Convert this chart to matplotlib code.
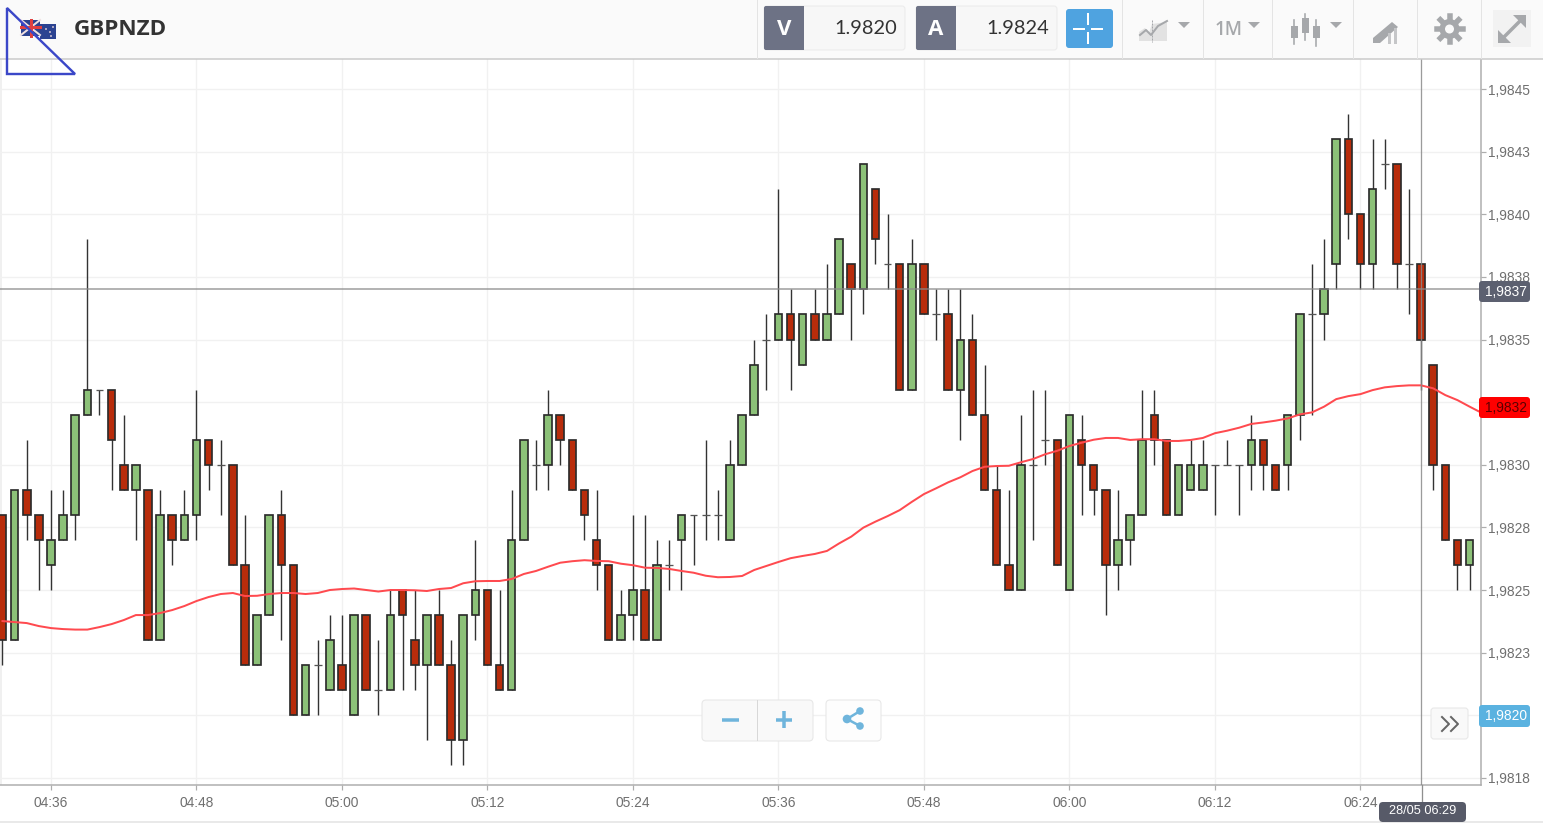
import matplotlib
matplotlib.use("Agg")
import matplotlib.pyplot as plt
from matplotlib.patches import Rectangle, FancyBboxPatch, Polygon, Circle
from matplotlib.lines import Line2D
import numpy as np

BASE = 1.98
PIP = 0.0001
# one candle per minute from 04:32, in pips above 1.9800
opens = [28,23,29,28,26,27,28,32,33,33,30,29,29,23,28,27,28,31,30,30,26,22,24,28,26,20,22,21,
         22,20,24,21,21,25,23,22,24,22,19,24,25,22,21,27,30,30,32,31,29,27,26,23,24,25,23,26,27,28,
         28,28,27,30,32,35,35,36,34,36,35,36,38,37,41,38,38,33,38,36,36,33,35,32,29,26,25,30,31,31,
         25,31,30,29,26,27,28,32,31,28,29,29,30,30,30,30,31,30,30,32,36,36,38,43,40,38,42,42,38,38,34,30,27,26]
highs = [28,29,31,28,29,29,32,39,33,33,32,30,29,29,28,29,33,31,31,30,28,24,28,29,26,22,23,24,
         24,24,24,23,25,25,25,24,25,23,24,27,25,25,29,31,31,33,32,31,29,29,26,25,28,28,27,27,28,28,
         31,29,31,32,35,36,41,37,36,37,38,39,38,42,41,40,38,39,38,37,37,37,36,34,30,29,32,33,33,31,
         32,32,30,29,29,28,33,33,31,30,31,31,30,31,30,32,31,30,32,36,38,39,43,44,40,43,43,42,41,38,34,30,27,27]
lows = [22,23,27,25,25,27,27,32,32,29,29,27,23,23,26,27,27,29,28,26,22,22,24,23,20,20,20,21,
        21,20,21,20,21,21,21,19,22,18,18,23,22,21,21,27,29,29,30,29,27,25,23,23,23,23,23,25,25,26,
        27,27,27,30,32,33,35,33,34,35,35,36,35,36,38,37,33,33,36,35,33,31,32,29,26,25,25,27,30,26,
        25,28,28,24,25,26,28,30,28,28,29,29,28,30,28,29,29,29,29,31,32,35,37,39,37,37,41,37,36,33,29,27,25,25]
closes = [23,29,28,27,27,28,32,33,33,31,29,30,23,28,27,28,31,30,30,26,22,24,28,26,20,22,22,23,
          21,24,21,21,24,24,22,24,22,19,24,25,22,21,27,31,30,32,31,29,28,26,23,24,25,23,26,26,28,28,
          28,28,30,32,34,35,36,35,36,35,36,39,37,42,39,38,33,38,36,36,33,35,32,29,26,25,30,30,31,26,
          32,30,29,26,27,28,31,31,28,30,30,30,30,30,30,31,30,29,32,36,36,37,43,40,38,41,42,38,38,35,30,27,26,27]
# moving average, pips above 1.9800
ma = [23.76,23.72,23.68,23.56,23.48,23.44,23.42,23.42,23.52,23.64,23.80,24.00,24.00,24.08,24.20,24.36,24.56,24.72,
      24.84,24.88,24.76,24.77,24.84,24.88,24.88,24.84,24.88,25.00,25.04,25.06,25.00,24.94,25.00,25.00,24.99,24.96,
      25.04,25.08,25.27,25.35,25.36,25.36,25.44,25.64,25.76,25.93,26.09,26.15,26.19,26.16,26.15,26.05,25.99,25.89,
      25.88,25.84,25.76,25.69,25.57,25.51,25.52,25.56,25.80,25.96,26.12,26.27,26.36,26.44,26.56,26.86,27.13,27.49,
      27.73,27.95,28.19,28.52,28.83,29.06,29.30,29.50,29.75,29.92,29.95,29.96,30.10,30.23,30.42,30.56,30.75,30.88,
      31.00,31.07,31.07,30.99,31.02,31.02,30.95,30.95,30.99,31.07,31.26,31.36,31.48,31.63,31.69,31.76,31.85,32.01,
      32.09,32.32,32.62,32.74,32.82,32.98,33.09,33.14,33.17,33.17,33.05,32.78,32.58,32.32,32.07]
y_tick_pips = [17.5,20,22.5,25,27.5,30,32.5,35,37.5,40,42.5,45]
y_tick_labels = ["1,9818","1,9820","1,9823","1,9825","1,9828","1,9830","1,9833","1,9835","1,9838","1,9840","1,9843","1,9845"]
x_tick_minutes = [4,16,28,40,52,64,76,88,100,112]
x_tick_labels = ["04:36","04:48","05:00","05:12","05:24","05:36","05:48","06:00","06:12","06:24"]
cross_price = 37.0
cross_minute = 117

to_price = lambda p: BASE + np.asarray(p, dtype=float) * PIP
o, h, l, c = map(to_price, (opens, highs, lows, closes))
t = np.arange(len(o))

W, H = 1543, 823
AXIS_FONT = "Liberation Sans"
fig = plt.figure(figsize=(W/100, H/100), dpi=100, facecolor="white")
ax = fig.add_axes([0, (H-785)/H, 1481/W, (785-59)/H])
ax.set_xlim(-0.206, 121.94)
ax.set_ylim(*to_price([17.216, 46.198]))

px = 0.72
ax.set_axisbelow(True)
ax.grid(True, color="#f1f1f1", lw=1.3*px)
ax.axvspan(-0.206, -0.04, color="#f0f0f0", lw=0, zorder=0)
for s in ("left", "top"):
    ax.spines[s].set_visible(False)
for s in ("right", "bottom"):
    ax.spines[s].set_color("#adadad"); ax.spines[s].set_linewidth(1.5*px)
ax.yaxis.tick_right()
ax.set_yticks(to_price(y_tick_pips)); ax.set_yticklabels(y_tick_labels, family=AXIS_FONT, fontsize=9.9, color="#6f6f6f")
ax.set_xticks(x_tick_minutes); ax.set_xticklabels(x_tick_labels, family=AXIS_FONT, fontsize=9.9, color="#6f6f6f")
ax.tick_params(axis="both", length=3.6, width=1.2*px, color="#adadad", pad=1.4)
ax.tick_params(axis="x", pad=4.4)

GREEN, RED, EDGE = "#8cc178", "#b82c0b", "#2b2b2b"
ax.vlines(t, l, h, color="#333333", lw=1.4*px, zorder=2)
body = c != o
up = c > o
ax.bar(t[body & up], (c-o)[body & up], bottom=o[body & up], width=0.62, color=GREEN, edgecolor=EDGE, lw=1.7*px, zorder=3)
ax.bar(t[body & ~up], (o-c)[body & ~up], bottom=c[body & ~up], width=0.62, color=RED, edgecolor=EDGE, lw=1.7*px, zorder=3)
ax.hlines(o[~body], t[~body]-0.32, t[~body]+0.32, color="#555555", lw=1.3*px, zorder=3)
ax.plot(np.arange(len(ma)), to_price(ma), color="#ff4a4f", lw=2*px, zorder=4, solid_joinstyle="round")
ax.axhline(to_price(cross_price), color="#8a8a8a", lw=1.5*px, alpha=0.85, zorder=5)
ax.axvline(cross_minute, color="#8a8a8a", lw=1.3*px, alpha=0.85, zorder=5)

# page chrome in pixel coordinates
ov = fig.add_axes([0, 0, 1, 1], zorder=10)
ov.set_xlim(0, W); ov.set_ylim(H, 0); ov.axis("off"); ov.patch.set_alpha(0)

def rect(x0, y0, x1, y1, fc, ec="none", lw=0, z=1):
    ov.add_patch(Rectangle((x0, y0), x1-x0, y1-y0, fc=fc, ec=ec, lw=lw, zorder=z))
def rbox(x0, y0, x1, y1, fc, ec="none", r=3, lw=0.8, z=1):
    ov.add_patch(FancyBboxPatch((x0+r, y0+r), x1-x0-2*r, y1-y0-2*r, boxstyle=f"round,pad={r},rounding_size={r}",
                                fc=fc, ec=ec, lw=lw, zorder=z, mutation_aspect=1))
def line(xs, ys, col, lw=1.0, z=3, **k):
    ov.add_line(Line2D(xs, ys, color=col, lw=lw*px, zorder=z, **k))
def txt(x, y, s, col, size, fam=AXIS_FONT, w="normal", ha="center", z=4):
    ov.text(x, y, s, color=col, fontsize=size, family=fam, weight=w, ha=ha, va="center", zorder=z)

rect(0, 0, W, 58.5, "#fafafa")
line([0, W], [58.5, 58.5], "#c9c9c9", 1.5)
line([0, W], [822, 822], "#e2e2e2", 1.5, z=0.6)
for xs in (757, 1122, 1203, 1272, 1353, 1417, 1481):
    line([xs, xs], [0, 58], "#e4e4e4", 1)

# flag
rect(21, 20, 40, 36, "#2c4391", z=2)
line([21, 40], [20, 35], "#f0e0e0", 2)
line([21, 40], [35, 20], "#f0e0e0", 2)
line([31, 31], [20, 36], "#e04040", 3)
line([21, 40], [27, 27], "#e04040", 3)
rect(40, 24, 56, 39, "#2c4391", z=2)
for sx, sy in ((46, 29), (50, 32), (53, 27), (51, 36)):
    ov.add_patch(Circle((sx, sy), 0.9, fc="#f2dede", zorder=3))
txt(73.5, 29.5, "GBPNZD", "#333333", 16.2, fam="Open Sans", w="bold", ha="left")
ov.add_patch(Polygon([(7, 8), (7, 74), (75, 74)], closed=True, fill=False, ec="#3b47c8", lw=2.4*px, zorder=6, joinstyle="miter"))

# bid / ask
for x0, x1, x2, lab, val in ((764, 804, 905, "V", "1.9820"), (916, 956, 1057, "A", "1.9824")):
    rbox(x0, 6, x2, 50, "#f7f7f7", ec="#ececec", r=3)
    rbox(x0, 6, x1, 50, "#6d7285", r=2, z=2)
    rect(x1-5, 6, x1, 50, "#6d7285", z=2)
    txt((x0+x1)/2, 29.5, lab, "white", 16, fam="Open Sans", w="bold")
    txt(x2-8, 28.5, val, "#333333", 14.4, fam="Lato", ha="right")
rbox(1066, 9, 1113, 48, "#4fa3e0", r=3)
for xs, ys in (([1088, 1088], [14, 24]), ([1088, 1088], [33, 43]), ([1074, 1084], [28.5, 28.5]), ([1092, 1102], [28.5, 28.5])):
    line(xs, ys, "white", 2)

ICON = "#a6a8ab"
ov.add_patch(Polygon([(1139, 41), (1139, 32), (1145, 28), (1149, 33), (1152, 24), (1167, 22), (1167, 41)], fc="#e2e2e2", ec="none", zorder=2))
line([1140, 1146, 1151, 1158, 1167], [35, 30, 35, 26, 21], ICON, 2)
line([1152, 1152], [20, 42], ICON, 1, ls=(0, (2, 1)))
def caret(x, y=22):
    ov.add_patch(Polygon([(x-6, y), (x+6, y), (x, y+6)], fc=ICON, ec="none", zorder=3))
caret(1184); caret(1254); caret(1336)
txt(1229, 29.5, "1M", ICON, 13.5, fam="Open Sans", w="semibold")
for cx, y0, y1, b0, b1 in ((1294, 20, 44, 26, 38), (1305, 14, 40, 18, 33), (1316, 20, 46, 26, 38)):
    line([cx, cx], [y0, y1], ICON, 1.6)
    rect(cx-3.5, b0, cx+3.5, b1, ICON, z=3)
ov.add_patch(Polygon([(1373, 38), (1392, 22), (1398, 27), (1380, 43), (1373, 43)], fc=ICON, ec="none", zorder=3))
rect(1388, 33, 1391, 44, "#c5c6c8", z=4); rect(1394, 28, 1397, 44, "#c5c6c8", z=4)
gx, gy = 1449.5, 29
ang = np.linspace(0, 2*np.pi, 8, endpoint=False)
for a in ang:
    line([gx, gx+13*np.cos(a)], [gy, gy+13*np.sin(a)], ICON, 5.5)
ov.add_patch(Circle((gx, gy), 10, fc=ICON, ec="none", zorder=4))
ov.add_patch(Circle((gx, gy), 4.5, fc="#fafafa", ec="none", zorder=5))
rect(1493, 10, 1531, 47, "#f2f2f2")
line([1503, 1521], [38, 20], ICON, 3.5)
ov.add_patch(Polygon([(1498, 30), (1498, 43), (1511, 43)], fc=ICON, ec="none", zorder=3))
ov.add_patch(Polygon([(1513, 15), (1526, 15), (1526, 28)], fc=ICON, ec="none", zorder=3))

# price and time flags
line([1421.5, 1421.5], [785, 803], "#8f8f8f", 1.3, z=2)
for y0, y1, fc, s, col in ((281, 302, "#5c6070", "1,9837", "white"), (397, 418, "#ff0000", "1,9832", "#5a0000"), (705, 727, "#5ab2e0", "1,9820", "white")):
    rbox(1479, y0, 1530, y1, fc, r=3, z=5)
    txt(1505.5, (y0+y1)/2, s, col, 9.9, z=6)
rbox(1379, 802, 1466, 822, "#575a68", r=4, z=5)
txt(1422.5, 811.5, "28/05 06:29", "white", 9.2, z=6)

# zoom, share and scroll buttons
rbox(702, 700, 813, 741, "#f9f9f9", ec="#e8e8e8", r=4)
line([757, 757], [700, 740], "#d8d8d8", 1)
BLUE = "#6fb5dc"
line([722, 739], [719.5, 719.5], BLUE, 3.5, solid_capstyle="butt")
line([776, 792], [719.5, 719.5], BLUE, 3.5, solid_capstyle="butt")
line([784, 784], [711, 728], BLUE, 3.5, solid_capstyle="butt")
rbox(826, 700, 881, 741, "#fdfdfd", ec="#e8e8e8", r=4)
line([860, 847, 860], [711, 719, 726], BLUE, 2.5)
for cx, cy, r in ((847, 719, 4.3), (860, 711, 3.8), (860, 726, 3.8)):
    ov.add_patch(Circle((cx, cy), r, fc=BLUE, ec="none", zorder=4))
rbox(1431, 708, 1468, 739, "#f9f9f9", ec="#e8e8e8", r=3)
line([1442, 1449, 1442], [717, 724, 731], "#666666", 2)
line([1451, 1458, 1451], [717, 724, 731], "#666666", 2)

fig.savefig("out.png", dpi=100, facecolor="white")
